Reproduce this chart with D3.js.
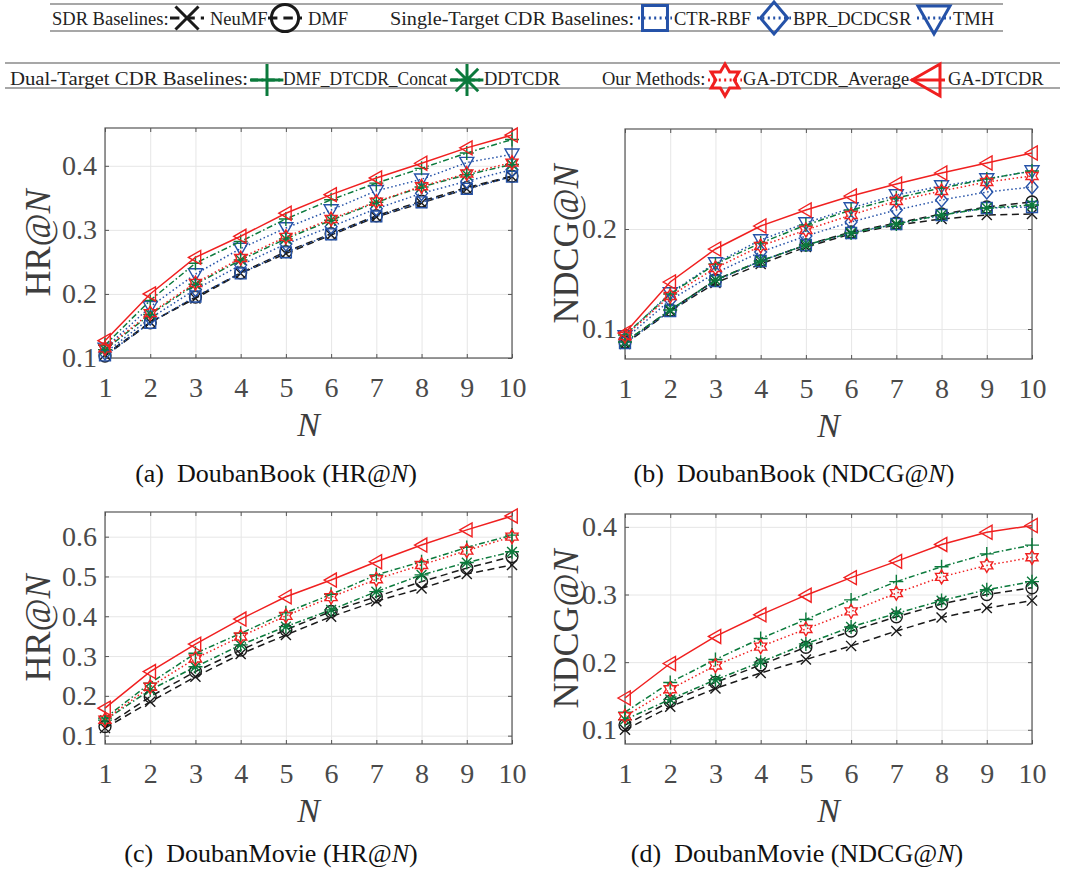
<!DOCTYPE html>
<html>
<head>
<meta charset="utf-8">
<script src="https://cdn.jsdelivr.net/npm/d3@7"></script>
<style>
  body { margin: 0; background: #fff; }
  text { font-family: "Liberation Serif", "Times New Roman", serif; }
</style>
</head>
<body>
<svg id="chart" width="1066" height="870" font-family="Liberation Serif"></svg>
<script>
// x values (top-N)
var N = [1, 2, 3, 4, 5, 6, 7, 8, 9, 10];

// methods, in drawing order
var methods = ["NeuMF", "DMF", "CTR-RBF", "BPR_DCDCSR", "TMH",
  "DMF_DTCDR_Concat", "DDTCDR", "GA-DTCDR_Average", "GA-DTCDR"];

// (a) DoubanBook HR@N  -- one row per method, same order as methods
var bookHR = [
  [0.105, 0.156, 0.193, 0.232, 0.263, 0.292, 0.320, 0.342, 0.364, 0.383],
  [0.103, 0.155, 0.195, 0.233, 0.266, 0.294, 0.322, 0.345, 0.366, 0.384],
  [0.104, 0.155, 0.196, 0.232, 0.265, 0.293, 0.321, 0.343, 0.364, 0.383],
  [0.108, 0.162, 0.207, 0.245, 0.278, 0.305, 0.333, 0.357, 0.376, 0.394],
  [0.115, 0.180, 0.231, 0.271, 0.303, 0.331, 0.361, 0.379, 0.405, 0.418],
  [0.120, 0.190, 0.248, 0.282, 0.317, 0.347, 0.373, 0.396, 0.420, 0.441],
  [0.113, 0.168, 0.215, 0.253, 0.286, 0.315, 0.343, 0.367, 0.386, 0.402],
  [0.115, 0.170, 0.217, 0.256, 0.289, 0.317, 0.344, 0.368, 0.388, 0.405],
  [0.127, 0.200, 0.257, 0.290, 0.326, 0.355, 0.381, 0.404, 0.428, 0.448]
];

// (b) DoubanBook NDCG@N
var bookNDCG = [
  [0.085, 0.118, 0.146, 0.165, 0.182, 0.195, 0.204, 0.210, 0.214, 0.215],
  [0.087, 0.119, 0.149, 0.168, 0.184, 0.197, 0.206, 0.215, 0.222, 0.227],
  [0.086, 0.118, 0.148, 0.168, 0.184, 0.196, 0.205, 0.214, 0.221, 0.222],
  [0.090, 0.129, 0.156, 0.177, 0.193, 0.207, 0.219, 0.229, 0.237, 0.242],
  [0.093, 0.136, 0.166, 0.189, 0.206, 0.221, 0.234, 0.243, 0.250, 0.258],
  [0.094, 0.135, 0.165, 0.186, 0.204, 0.219, 0.231, 0.241, 0.250, 0.258],
  [0.087, 0.119, 0.149, 0.168, 0.184, 0.196, 0.205, 0.214, 0.221, 0.224],
  [0.093, 0.133, 0.161, 0.183, 0.199, 0.214, 0.228, 0.238, 0.247, 0.253],
  [0.096, 0.147, 0.180, 0.203, 0.219, 0.233, 0.245, 0.256, 0.266, 0.276]
];

// (c) DoubanMovie HR@N (no single-target baselines here)
var movieHR = [
  [0.119, 0.185, 0.248, 0.305, 0.353, 0.399, 0.438, 0.470, 0.506, 0.529],
  [0.123, 0.198, 0.261, 0.315, 0.366, 0.412, 0.449, 0.487, 0.521, 0.550],
  null, null, null,
  [0.144, 0.232, 0.307, 0.357, 0.409, 0.455, 0.504, 0.537, 0.573, 0.604],
  [0.139, 0.215, 0.273, 0.328, 0.374, 0.416, 0.462, 0.504, 0.535, 0.562],
  [0.140, 0.223, 0.294, 0.349, 0.401, 0.448, 0.493, 0.529, 0.565, 0.600],
  [0.169, 0.261, 0.330, 0.393, 0.449, 0.491, 0.537, 0.579, 0.617, 0.652]
];

// (d) DoubanMovie NDCG@N
var movieNDCG = [
  [0.100, 0.134, 0.161, 0.184, 0.204, 0.224, 0.246, 0.266, 0.280, 0.291],
  [0.107, 0.142, 0.170, 0.196, 0.222, 0.246, 0.267, 0.286, 0.300, 0.310],
  null, null, null,
  [0.126, 0.170, 0.204, 0.235, 0.263, 0.292, 0.319, 0.341, 0.360, 0.373],
  [0.115, 0.145, 0.174, 0.200, 0.227, 0.252, 0.272, 0.291, 0.307, 0.319],
  [0.120, 0.160, 0.195, 0.223, 0.249, 0.275, 0.302, 0.326, 0.343, 0.355],
  [0.147, 0.198, 0.238, 0.270, 0.299, 0.325, 0.349, 0.374, 0.392, 0.402]
];

var yTicksA = [0.1, 0.2, 0.3, 0.4];
var yTicksB = [0.1, 0.2];
var yTicksC = [0.1, 0.2, 0.3, 0.4, 0.5, 0.6];
var yTicksD = [0.1, 0.2, 0.3, 0.4];

// colours / line styles / markers for each method
var BLACK = "#1a1a1a", BLUE = "#2552a8", GREEN = "#0b7a3c", RED = "#f02020";
var style = {
  "NeuMF":            { color: BLACK, dash: "dashed", marker: "x" },
  "DMF":              { color: BLACK, dash: "dashed", marker: "circle" },
  "CTR-RBF":          { color: BLUE,  dash: "dotted", marker: "square" },
  "BPR_DCDCSR":       { color: BLUE,  dash: "dotted", marker: "diamond" },
  "TMH":              { color: BLUE,  dash: "dotted", marker: "tridown" },
  "DMF_DTCDR_Concat": { color: GREEN, dash: "dashdot", marker: "plus" },
  "DDTCDR":           { color: GREEN, dash: "dashdot", marker: "asterisk" },
  "GA-DTCDR_Average": { color: RED,   dash: "dotted", marker: "hexagram" },
  "GA-DTCDR":         { color: RED,   dash: "solid", marker: "trileft" }
};

function dashArray(kind, w) {
  if (kind == "dashed") return (4.7 * w) + "," + (3 * w);
  if (kind == "dotted") return (1 * w) + "," + (1.7 * w);
  if (kind == "dashdot") return (4 * w) + "," + (1.7 * w) + "," + (1 * w) + "," + (1.7 * w);
  return null;
}

// marker outlines centred on 0,0
function markerPath(type, s) {
  var h = s / 2;
  if (type == "x") {
    var k = h * 0.72;
    return "M" + -k + "," + -k + "L" + k + "," + k + "M" + -k + "," + k + "L" + k + "," + -k;
  }
  if (type == "circle") {
    var r = h * 0.85;
    return "M" + r + ",0A" + r + "," + r + " 0 1 1 " + -r + ",0A" + r + "," + r + " 0 1 1 " + r + ",0Z";
  }
  if (type == "square") {
    var q = h * 0.78;
    return "M" + -q + "," + -q + "H" + q + "V" + q + "H" + -q + "Z";
  }
  if (type == "diamond") {
    return "M0," + -h + "L" + h * 0.85 + ",0L0," + h + "L" + -h * 0.85 + ",0Z";
  }
  if (type == "tridown") {
    return "M" + -h + "," + -h * 0.75 + "L" + h + "," + -h * 0.75 + "L0," + h + "Z";
  }
  if (type == "trileft") {
    return "M" + -h + ",0L" + h * 0.75 + "," + -h + "L" + h * 0.75 + "," + h + "Z";
  }
  if (type == "plus") {
    return "M" + -h + ",0H" + h + "M0," + -h + "V" + h;
  }
  if (type == "asterisk") {
    var a = h * 0.7;
    return "M" + -h + ",0H" + h + "M0," + -h + "V" + h +
      "M" + -a + "," + -a + "L" + a + "," + a + "M" + -a + "," + a + "L" + a + "," + -a;
  }
  if (type == "hexagram") {
    var pts = [];
    for (var i = 0; i < 12; i++) {
      var ang = -Math.PI / 2 + i * Math.PI / 6;
      var rr = (i % 2 == 0) ? h : h / Math.sqrt(3);
      pts.push([rr * Math.cos(ang), rr * Math.sin(ang)]);
    }
    return "M" + pts.map(function (p) { return p[0].toFixed(2) + "," + p[1].toFixed(2); }).join("L") + "Z";
  }
  return "";
}

var svg = d3.select("#chart");
var SERIF = "Liberation Serif, Times New Roman, serif";

var panels = [
  { data: bookHR, metric: "HR", dataset: "DoubanBook", tag: "(a)", ticks: yTicksA,
    x0: 105, x1: 512, y0: 128, y1: 358, dom: [0.1, 0.459], ylabX: 50, capX: 276, capY: 482 },
  { data: bookNDCG, metric: "NDCG", dataset: "DoubanBook", tag: "(b)", ticks: yTicksB,
    x0: 625, x1: 1032, y0: 129, y1: 359, dom: [0.07, 0.30], ylabX: 578, capX: 794, capY: 482 },
  { data: movieHR, metric: "HR", dataset: "DoubanMovie", tag: "(c)", ticks: yTicksC,
    x0: 105, x1: 512, y0: 512, y1: 744, dom: [0.079, 0.662], ylabX: 50, capX: 271, capY: 862 },
  { data: movieNDCG, metric: "NDCG", dataset: "DoubanMovie", tag: "(d)", ticks: yTicksD,
    x0: 625, x1: 1032, y0: 514, y1: 744, dom: [0.079, 0.419], ylabX: 578, capX: 797, capY: 862 }
];

var AXIS = "#555", TICKTXT = "#4a4a4a", GRID = "#e6e6e6";

panels.forEach(function (p) {
  var x = d3.scaleLinear().domain([1, 10]).range([p.x0, p.x1]);
  var y = d3.scaleLinear().domain(p.dom).range([p.y1, p.y0]);
  var w = p.x1 - p.x0, hgt = p.y1 - p.y0;
  var g = svg.append("g");

  // grid
  g.append("g").attr("class", "grid").attr("transform", "translate(0," + p.y1 + ")")
    .call(d3.axisBottom(x).tickValues(N).tickSize(-hgt).tickFormat(""));
  g.append("g").attr("class", "grid").attr("transform", "translate(" + p.x0 + ",0)")
    .call(d3.axisLeft(y).tickValues(p.ticks).tickSize(-w).tickFormat(""));
  g.selectAll(".grid .domain").remove();
  g.selectAll(".grid line").attr("stroke", GRID);

  // box
  g.append("rect").attr("x", p.x0).attr("y", p.y0).attr("width", w).attr("height", hgt)
    .attr("fill", "none").attr("stroke", AXIS).attr("stroke-width", 1.2);

  // axes with inward ticks on all four sides
  var ax = g.append("g").attr("class", "ax");
  ax.append("g").attr("transform", "translate(0," + p.y1 + ")")
    .call(d3.axisBottom(x).tickValues(N).tickSize(-4).tickPadding(19).tickFormat(d3.format("d")));
  ax.append("g").attr("transform", "translate(" + p.x0 + ",0)")
    .call(d3.axisLeft(y).tickValues(p.ticks).tickSize(-4).tickPadding(8).tickFormat(d3.format(".1f")));
  ax.append("g").attr("transform", "translate(0," + p.y0 + ")")
    .call(d3.axisTop(x).tickValues(N).tickSize(-4).tickFormat(""));
  ax.append("g").attr("transform", "translate(" + p.x1 + ",0)")
    .call(d3.axisRight(y).tickValues(p.ticks).tickSize(-4).tickFormat(""));
  ax.selectAll(".domain").remove();
  ax.selectAll("g").attr("font-family", SERIF);
  ax.selectAll(".tick line").attr("stroke", AXIS);
  ax.selectAll(".tick text").attr("font-size", 28).attr("fill", TICKTXT);

  // series
  var line = d3.line().x(function (d, i) { return x(N[i]); }).y(function (d) { return y(d); });
  methods.forEach(function (m, mi) {
    var vals = p.data[mi];
    if (!vals) return;
    var st = style[m];
    g.append("path").attr("d", line(vals)).attr("fill", "none")
      .attr("stroke", st.color).attr("stroke-width", 1.5)
      .attr("stroke-dasharray", dashArray(st.dash, 1.5));
    g.selectAll(null).data(vals).enter().append("path")
      .attr("transform", function (d, i) { return "translate(" + x(N[i]) + "," + y(d) + ")"; })
      .attr("d", markerPath(st.marker, 14))
      .attr("fill", "none").attr("stroke", st.color).attr("stroke-width", 1.4);
  });

  // y label
  var yl = g.append("text")
    .attr("transform", "translate(" + p.ylabX + "," + ((p.y0 + p.y1) / 2) + ") rotate(-90)")
    .attr("text-anchor", "middle").attr("font-size", 36).attr("fill", "#3d3d3d");
  yl.append("tspan").text(p.metric + "@");
  yl.append("tspan").attr("font-style", "italic").text("N");

  // x label
  g.append("text").attr("x", (p.x0 + p.x1) / 2).attr("y", p.y1 + 78)
    .attr("text-anchor", "middle").attr("font-size", 34).attr("font-style", "italic")
    .attr("fill", "#3d3d3d").text("N");

  // caption
  var cap = g.append("text").attr("x", p.capX).attr("y", p.capY)
    .attr("text-anchor", "middle").attr("font-size", 26).attr("fill", "#111");
  cap.append("tspan").text(p.tag + "\u2002" + p.dataset + " (" + p.metric + "@");
  cap.append("tspan").attr("font-style", "italic").text("N");
  cap.append("tspan").text(")");
});

// legend: two framed rows; group titles and entries placed like the original figure
var legendRow1 = [
  { title: "SDR Baselines:", x: 52 },
  { name: "NeuMF", cx: 187, x: 210 },
  { name: "DMF", cx: 285, x: 308 },
  { title: "Single-Target CDR Baselines:", x: 390, len: 244 },
  { name: "CTR-RBF", cx: 655, x: 674 },
  { name: "BPR_DCDCSR", cx: 774, x: 793 },
  { name: "TMH", cx: 934, x: 953 }
];
var legendRow2 = [
  { title: "Dual-Target CDR Baselines:", x: 10, len: 238 },
  { name: "DMF_DTCDR_Concat", cx: 267, x: 283, len: 164 },
  { name: "DDTCDR", cx: 467, x: 484 },
  { title: "Our Methods:", x: 602 },
  { name: "GA-DTCDR_Average", cx: 725, x: 743 },
  { name: "GA-DTCDR", cx: 928, x: 948 }
];

function drawLegendRow(entries, top, bottom, left, right, cy, base) {
  var lg = svg.append("g");
  [top, bottom].forEach(function (yy) {
    lg.append("line").attr("x1", left).attr("x2", right).attr("y1", yy).attr("y2", yy)
      .attr("stroke", "#8a8a8a").attr("stroke-width", 1.3);
  });
  entries.forEach(function (e) {
    var label = e.title || e.name;
    if (e.name) {
      var st = style[e.name];
      lg.append("line").attr("x1", e.cx - 17).attr("x2", e.cx + 17).attr("y1", cy).attr("y2", cy)
        .attr("stroke", st.color).attr("stroke-width", 3)
        .attr("stroke-dasharray", dashArray(st.dash, 2));
      lg.append("path").attr("transform", "translate(" + e.cx + "," + cy + ")")
        .attr("d", markerPath(st.marker, 32)).attr("fill", "none")
        .attr("stroke", st.color).attr("stroke-width", 3);
    }
    var t = lg.append("text").attr("x", e.x).attr("y", base)
      .attr("font-size", 18.5).attr("fill", "#222").text(label);
    if (e.len) t.attr("textLength", e.len).attr("lengthAdjust", "spacingAndGlyphs");
  });
}

drawLegendRow(legendRow1, 4, 31, 50, 1003, 18, 25);
drawLegendRow(legendRow2, 63, 88, 5, 1060, 80, 85);
</script>
</body>
</html>
